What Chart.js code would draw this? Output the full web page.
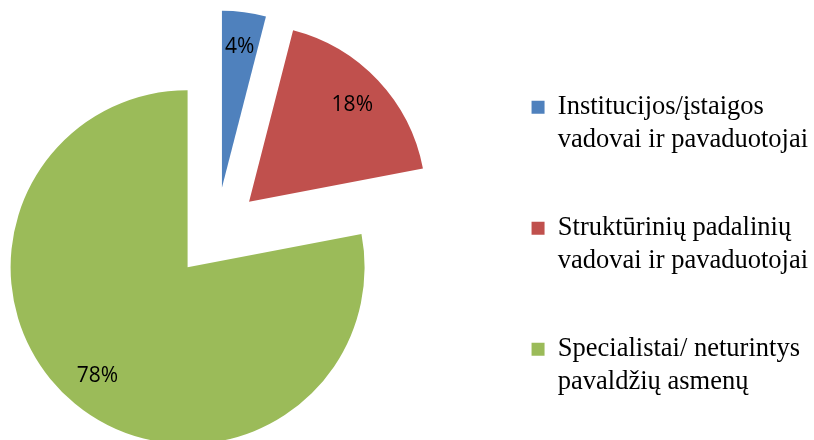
<!DOCTYPE html>
<html>
<head>
<meta charset="utf-8">
<script src="https://cdn.jsdelivr.net/npm/chart.js@4/dist/chart.umd.min.js"></script>
<style>
  html, body { margin: 0; padding: 0; background: #fff; overflow: hidden; width: 814px; height: 440px; }
  #wrap { width: 862px; height: 457px; position: absolute; left: -44px; top: 0; }
</style>
</head>
<body>
<div id="wrap"><canvas id="c"></canvas></div>
<script>
const categories = [
  ["Institucijos/įstaigos", "vadovai ir pavaduotojai"],
  ["Struktūrinių padalinių", "vadovai ir pavaduotojai"],
  ["Specialistai/ neturintys", "pavaldžių asmenų"]
];
const shares = [4, 18, 78];
const sliceColors = ["#4F81BD", "#C0504D", "#9BBB59"];

const EXPLODE = 45;       // px each slice is pulled out along its bisector
const LABEL_POS = 0.8;    // label distance as a fraction of the radius

const explodePlugin = {
  id: 'explode',
  beforeDatasetDraw(chart, args) {
    const ctx = chart.ctx;
    args.meta.data.forEach(arc => {
      const mid = (arc.startAngle + arc.endAngle) / 2;
      ctx.save();
      ctx.translate(Math.cos(mid) * EXPLODE, Math.sin(mid) * EXPLODE);
      arc.draw(ctx, chart.chartArea);
      ctx.restore();
    });
    return false;
  }
};

const pctLabelPlugin = {
  id: 'pctLabels',
  afterDatasetsDraw(chart) {
    const ctx = chart.ctx;
    const meta = chart.getDatasetMeta(0);
    const vals = chart.data.datasets[0].data;
    const total = vals.reduce((a, b) => a + b, 0);
    ctx.save();
    ctx.font = '21px "Open Sans", "DejaVu Sans", sans-serif';
    ctx.fillStyle = '#000';
    ctx.textAlign = 'center';
    ctx.textBaseline = 'middle';
    meta.data.forEach((arc, i) => {
      const mid = (arc.startAngle + arc.endAngle) / 2;
      const r = EXPLODE + LABEL_POS * arc.outerRadius;
      const txt = Math.round(vals[i] / total * 100) + '%';
      ctx.fillText(txt, arc.x + Math.cos(mid) * r, arc.y + Math.sin(mid) * r);
    });
    ctx.restore();
  }
};

new Chart(document.getElementById('c'), {
  type: 'pie',
  data: {
    labels: categories,
    datasets: [{
      data: shares,
      backgroundColor: sliceColors,
      borderWidth: 0,
      radius: 177,
      clip: false
    }]
  },
  options: {
    responsive: true,
    maintainAspectRatio: false,
    animation: false,
    events: [],
    layout: { padding: { left: 0, right: 0, top: 8, bottom: 0 } },
    plugins: {
      tooltip: { enabled: false },
      legend: {
        position: 'right',
        align: 'end',
        labels: {
          boxWidth: 13,
          boxHeight: 13,
          padding: 55,
          color: '#000',
          font: { family: '"Liberation Serif", "Times New Roman", serif', size: 26.5, lineHeight: '33px' }
        }
      }
    }
  },
  plugins: [explodePlugin, pctLabelPlugin]
});
</script>
</body>
</html>
